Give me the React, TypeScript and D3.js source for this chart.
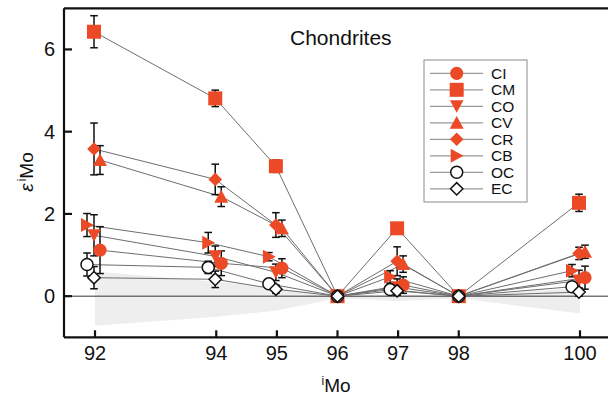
import React from "react";
import * as d3 from "d3";

// Mo isotopes (mass numbers) on the x axis
const isotopes = [92, 94, 95, 96, 97, 98, 100];
const isotopeLabels = ["92", "94", "95", "96", "97", "98", "100"];
const yTickValues = [0, 2, 4, 6];
const normIsotopes = [96, 98];

// Chondrite groups and their ε^iMo anomalies (96 and 98 are normalizing isotopes)
const groupNames = ["CI", "CM", "CO", "CV", "CR", "CB", "OC", "EC"];

const ciValues = [1.12, 0.8, 0.68, 0, 0.27, 0, 0.45];
const ciErrors = [0.57, 0.3, 0.23, 0, 0.2, 0, 0.28];
const cmValues = [6.43, 4.81, 3.16, 0, 1.65, 0, 2.27];
const cmErrors = [0.39, 0.2, 0.15, 0, 0.1, 0, 0.21];
const coValues = [1.48, 0.97, 0.58, 0, 0.22, 0, 0.38];
const coErrors = [0.5, 0.25, 0.2, 0, 0.2, 0, 0.25];
const cvValues = [3.31, 2.42, 1.65, 0, 0.78, 0, 1.08];
const cvErrors = [0.35, 0.24, 0.2, 0, 0.2, 0, 0.16];
const crValues = [3.58, 2.84, 1.73, 0, 0.85, 0, 1.04];
const crErrors = [0.63, 0.37, 0.3, 0, 0.35, 0, 0.15];
const cbValues = [1.73, 1.3, 0.96, 0, 0.47, 0, 0.62];
const cbErrors = [0.28, 0.25, 0.1, 0, 0.15, 0, 0.15];
const ocValues = [0.77, 0.7, 0.3, 0, 0.16, 0, 0.23];
const ocErrors = [0.28, 0.15, 0.1, 0, 0.08, 0, 0.1];
const ecValues = [0.45, 0.41, 0.17, 0, 0.13, 0, 0.1];
const ecErrors = [0.27, 0.2, 0.1, 0, 0.1, 0, 0.1];

// Light grey envelope around zero
const envelopeUpper = [0.6, 0.35, 0.2, 0, 0.05, 0, 0.2];
const envelopeLower = [-0.72, -0.5, -0.35, -0.05, -0.12, -0.05, -0.42];

type Shape = "circle" | "square" | "tdown" | "tup" | "diamond" | "tright" | "ocircle" | "odiamond";

const ORANGE = "#ec4a26";

const seriesValues = [ciValues, cmValues, coValues, cvValues, crValues, cbValues, ocValues, ecValues];
const seriesErrors = [ciErrors, cmErrors, coErrors, cvErrors, crErrors, cbErrors, ocErrors, ecErrors];
const seriesShapes: Shape[] = ["circle", "square", "tdown", "tup", "diamond", "tright", "ocircle", "odiamond"];
// horizontal dodge (px) so overlapping groups stay readable
const seriesDodge = [5, -1, -1, 5, -1, -8, -8, -1];

function Marker({ shape, x, y }: { shape: Shape; x: number; y: number }) {
  const t = `translate(${x},${y})`;
  switch (shape) {
    case "circle":
      return <circle cx={x} cy={y} r={6.6} fill={ORANGE} />;
    case "square":
      return <rect x={x - 7} y={y - 7} width={14} height={14} fill={ORANGE} />;
    case "tdown":
      return <path transform={t} d="M-6.8,-6L6.8,-6L0,6.5Z" fill={ORANGE} />;
    case "tup":
      return <path transform={t} d="M-7,6L7,6L0,-6.8Z" fill={ORANGE} />;
    case "diamond":
      return <path transform={t} d="M0,-6.8L6.8,0L0,6.8L-6.8,0Z" fill={ORANGE} />;
    case "tright":
      return <path transform={t} d="M-6,-7L6.8,0L-6,7Z" fill={ORANGE} />;
    case "ocircle":
      return <circle cx={x} cy={y} r={6} fill="#fff" stroke="#111" strokeWidth={1.5} />;
    case "odiamond":
      return (
        <path transform={t} d="M0,-6.2L6.2,0L0,6.2L-6.2,0Z" fill="#fff" stroke="#111" strokeWidth={1.5} />
      );
  }
  return null;
}

export default function App() {
  const W = 608;
  const H = 397;
  const left = 64;
  const top = 8.3;
  const bottom = 337.3;
  const right = 612;

  const x = d3.scaleLinear().domain([92, 100]).range([95, 580]);
  const y = d3.scaleLinear().domain([-1, 7]).range([bottom, top]);

  const px = (s: number, i: number) =>
    x(isotopes[i]) + (normIsotopes.includes(isotopes[i]) ? 0 : seriesDodge[s]);

  const envelopePts: [number, number][] = [
    ...isotopes.map((m, i) => [m, envelopeUpper[i]] as [number, number]),
    ...isotopes.map((m, i) => [m, envelopeLower[i]] as [number, number]).reverse(),
  ];
  const envelopePath =
    d3
      .line<[number, number]>()
      .x((d) => x(d[0]))
      .y((d) => y(d[1]))(envelopePts) + "Z";

  const font = "'Liberation Sans', Arial, Helvetica, sans-serif";

  const seriesLine = (s: number) =>
    d3
      .line<number>()
      .x((_, i) => px(s, i))
      .y((v) => y(v))(seriesValues[s]) || "";

  const legendX = 424;
  const legendY = 60;
  const rowY = (i: number) => 73.3 + i * 16.5;

  return (
    <svg
      width={W}
      height={H}
      style={{ position: "absolute", left: 0, top: 0, background: "#fff" }}
      fontFamily={font}
    >
      <rect x={0} y={0} width={W} height={H} fill="#fff" />
      <path d={envelopePath} fill="#eeeeee" />
      <line x1={left} x2={right} y1={y(0)} y2={y(0)} stroke="#333" strokeWidth={1} />

      {seriesValues.map((_, s) => (
        <path key={"l" + s} d={seriesLine(s)} fill="none" stroke="#6e6e6e" strokeWidth={1} />
      ))}

      {seriesValues.map((vals, s) =>
        vals.map((v, i) => {
          const e = seriesErrors[s][i];
          if (!e) return null;
          const cx = px(s, i);
          return (
            <g key={`e${s}-${i}`} stroke="#111" strokeWidth={1.5}>
              <line x1={cx} x2={cx} y1={y(v + e)} y2={y(v - e)} />
              <line x1={cx - 3.8} x2={cx + 3.8} y1={y(v + e)} y2={y(v + e)} />
              <line x1={cx - 3.8} x2={cx + 3.8} y1={y(v - e)} y2={y(v - e)} />
            </g>
          );
        })
      )}

      {seriesValues.map((vals, s) =>
        vals.map((v, i) => <Marker key={`m${s}-${i}`} shape={seriesShapes[s]} x={px(s, i)} y={y(v)} />)
      )}

      <text x={290} y={45} fontSize={21} fill="#111">
        Chondrites
      </text>

      {/* legend */}
      <rect
        x={legendX}
        y={legendY}
        width={103}
        height={142}
        fill="#fff"
        stroke="#8a8a8a"
        strokeWidth={1}
      />
      {groupNames.map((g, i) => (
        <g key={"lg" + g}>
          <line x1={430} x2={483} y1={rowY(i)} y2={rowY(i)} stroke="#9a9a9a" strokeWidth={1.2} />
          <Marker shape={seriesShapes[i]} x={456.7} y={rowY(i)} />
          <text x={491} y={rowY(i) + 5.4} fontSize={15.5} fill="#111">
            {g}
          </text>
        </g>
      ))}

      {/* frame and ticks */}
      <g stroke="#111" strokeWidth={2.2} fill="none">
        <line x1={left} x2={left} y1={top} y2={bottom} />
        <line x1={left} x2={right} y1={top} y2={top} />
        <line x1={left} x2={right} y1={bottom} y2={bottom} />
        {yTickValues.map((t) => (
          <line key={"yt" + t} x1={left} x2={left + 8} y1={y(t)} y2={y(t)} />
        ))}
        {isotopes.map((m) => (
          <line key={"xt" + m} x1={x(m)} x2={x(m)} y1={bottom} y2={bottom - 7} />
        ))}
      </g>

      {yTickValues.map((t) => (
        <text key={"yl" + t} x={55} y={y(t) + 7} fontSize={20} textAnchor="end" fill="#111">
          {t}
        </text>
      ))}
      {isotopes.map((m, i) => (
        <text key={"xl" + m} x={x(m)} y={359.5} fontSize={20} textAnchor="middle" fill="#111">
          {isotopeLabels[i]}
        </text>
      ))}

      <text x={336} y={392} fontSize={19} textAnchor="middle" fill="#111">
        <tspan fontSize={12} dy={-7}>
          i
        </tspan>
        <tspan dy={7}>Mo</tspan>
      </text>

      <text
        transform={`translate(33,172) rotate(-90)`}
        fontSize={19}
        textAnchor="middle"
        fill="#111"
      >
        <tspan fontStyle="italic">ε</tspan>
        <tspan fontSize={12} dy={-7} dx={2}>
          i
        </tspan>
        <tspan dy={7}>Mo</tspan>
      </text>
    </svg>
  );
}
